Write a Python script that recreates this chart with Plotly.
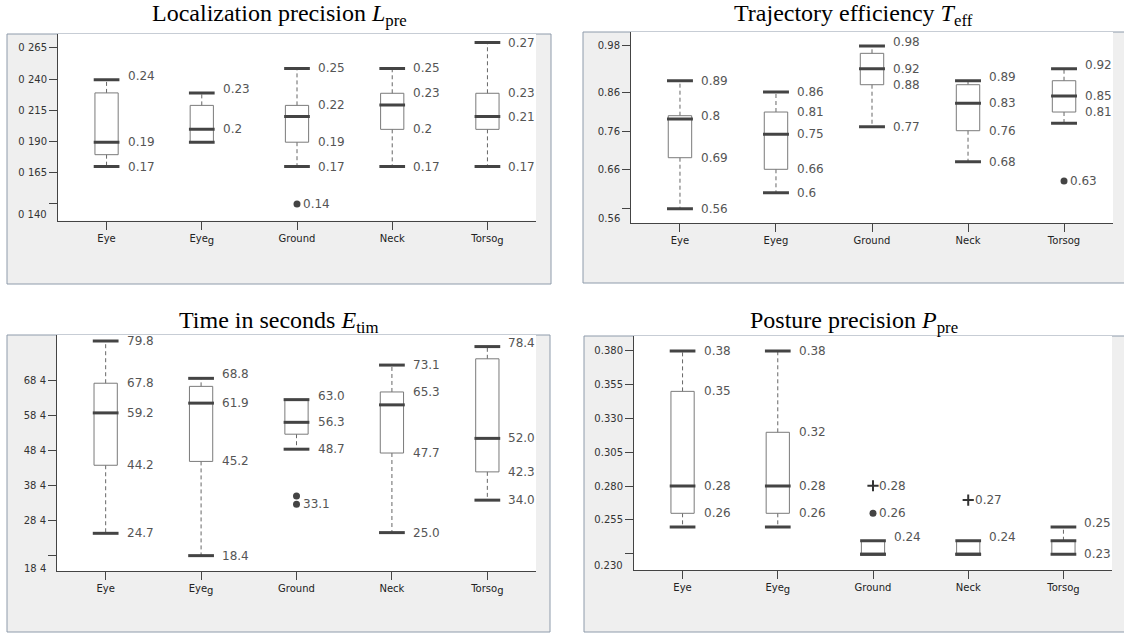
import plotly.graph_objects as go

# tick labels on the category axes
sub_g = "<sub><span style='font-size:10px'>g</span></sub>"
cats_sub = ["Eye", "Eye" + sub_g, "Ground", "Neck", "Torso" + sub_g]
cats_plain = ["Eye", "Eyeg", "Ground", "Neck", "Torsog"]

# Localization precision L_pre
loc_lower = [0.170, 0.1895, 0.170, 0.170, 0.170]
loc_q1 = [0.1795, 0.1895, 0.1895, 0.1998, 0.1998]
loc_median = [0.1895, 0.1998, 0.2100, 0.2194, 0.2100]
loc_q3 = [0.2290, 0.2190, 0.2190, 0.2287, 0.2287]
loc_upper = [0.2395, 0.2290, 0.2486, 0.2486, 0.2693]
loc_out = [[], [], [0.140], [], []]
loc_far = [[], [], [], [], []]
loc_labels = [
    [("upper", "0.24", 1), ("median", "0.19", 0), ("lower", "0.17", 0)],
    [("upper", "0.23", 1), ("median", "0.2", 0)],
    [("upper", "0.25", 0), ("q3", "0.22", 0), ("q1", "0.19", 0), ("lower", "0.17", 0), ("out", "0.14", 0)],
    [("upper", "0.25", 0), ("q3", "0.23", 0), ("q1", "0.2", 0), ("lower", "0.17", 0)],
    [("upper", "0.27", 0), ("q3", "0.23", 0), ("median", "0.21", 0), ("lower", "0.17", 0)],
]
loc_ticks = [0.165, 0.190, 0.215, 0.240, 0.265]
loc_ticktext = ["0 165", "0 190", "0 215", "0 240", "0 265"]
loc_minor = [0.140]

# Trajectory efficiency T_eff
eff_lower = [0.560, 0.6013, 0.7714, 0.6812, 0.7802]
eff_q1 = [0.6915, 0.6616, 0.8797, 0.7611, 0.8093]
eff_median = [0.7913, 0.7518, 0.9210, 0.8317, 0.8506]
eff_q3 = [0.7998, 0.8093, 0.9606, 0.8797, 0.8900]
eff_upper = [0.890, 0.8609, 0.9795, 0.890, 0.9209]
eff_out = [[], [], [], [], [0.6314]]
eff_far = [[], [], [], [], []]
eff_labels = [
    [("upper", "0.89", 0), ("q3", "0.8", 0), ("q1", "0.69", 0), ("lower", "0.56", 0)],
    [("upper", "0.86", 0), ("q3", "0.81", 0), ("median", "0.75", 0), ("q1", "0.66", 0), ("lower", "0.6", 0)],
    [("upper", "0.98", 1), ("median", "0.92", 0), ("q1", "0.88", 0), ("lower", "0.77", 0)],
    [("upper", "0.89", 1), ("median", "0.83", 0), ("q1", "0.76", 0), ("lower", "0.68", 0)],
    [("upper", "0.92", 1), ("median", "0.85", 0), ("q1", "0.81", 0), ("out", "0.63", 0)],
]
eff_ticks = [0.66, 0.76, 0.86, 0.98]
eff_ticktext = ["0.66", "0.76", "0.86", "0.98"]
eff_minor = [0.56]

# Time in seconds E_tim
tim_lower = [24.7, 18.3, 48.8, 24.9, 34.2]
tim_q1 = [44.2, 45.3, 53.1, 47.7, 42.3]
tim_median = [59.2, 62.0, 56.5, 61.5, 51.9]
tim_q3 = [67.7, 66.8, 63.0, 65.2, 74.7]
tim_upper = [79.8, 69.1, 63.0, 72.9, 78.2]
tim_out = [[], [], [35.4, 33.0], [], []]
tim_far = [[], [], [], [], []]
tim_labels = [
    [("upper", "79.8", 0), ("q3", "67.8", 0), ("median", "59.2", 0), ("q1", "44.2", 0), ("lower", "24.7", 0)],
    [("upper", "68.8", 1), ("median", "61.9", 0), ("q1", "45.2", 0), ("lower", "18.4", 0)],
    [("upper", "63.0", 1), ("median", "56.3", 0), ("lower", "48.7", 0), ("out1", "33.1", 0)],
    [("upper", "73.1", 0), ("q3", "65.3", 0), ("q1", "47.7", 0), ("lower", "25.0", 0)],
    [("upper", "78.4", 1), ("median", "52.0", 0), ("q1", "42.3", 0), ("lower", "34.0", 0)],
]
tim_ticks = [28.4, 38.4, 48.4, 58.4, 68.4]
tim_ticktext = ["28 4", "38 4", "48 4", "58 4", "68 4"]
tim_minor = [18.4]

# Posture precision P_pre
pos_lower = [0.2496, 0.2496, 0.2294, 0.2294, 0.2294]
pos_q1 = [0.2598, 0.2598, 0.2294, 0.2294, 0.2294]
pos_median = [0.2800, 0.2800, 0.2294, 0.2294, 0.2395]
pos_q3 = [0.3501, 0.3198, 0.2395, 0.2395, 0.2395]
pos_upper = [0.3800, 0.3800, 0.2395, 0.2395, 0.2496]
pos_out = [[], [], [0.2598], [], []]
pos_far = [[], [], [0.2802], [0.2696], []]
pos_labels = [
    [("upper", "0.38", 0), ("q3", "0.35", 0), ("median", "0.28", 0), ("q1", "0.26", 0)],
    [("upper", "0.38", 0), ("q3", "0.32", 0), ("median", "0.28", 0), ("q1", "0.26", 0)],
    [("upper", "0.24", 1), ("far", "0.28", 0), ("out", "0.26", 0)],
    [("upper", "0.24", 1), ("far", "0.27", 0)],
    [("upper", "0.25", 1), ("lower", "0.23", 0)],
]
pos_ticks = [0.255, 0.280, 0.305, 0.330, 0.355, 0.380]
pos_ticktext = ["0.255", "0.280", "0.305", "0.330", "0.355", "0.380"]
pos_minor = [0.230]

W, H = 1124, 635
BOX_W = 0.122
CAP_W = 0.135
DARK = "#444444"
LABEL_COLOR = "#555555"

fig = go.Figure()


def px_x(v):
    return v / W


def px_y(v):
    return 1 - v / H


def add_panel(n, title, cats, lower, q1, med, q3, upper, out, far, labels,
              ticks, ticktext, minor, bottom_text, bottom_val, yrange, frame, plot, title_y):
    xa = "x" if n == 1 else f"x{n}"
    ya = "y" if n == 1 else f"y{n}"
    pos = list(range(len(cats)))

    # gray frame and white plotting area
    fig.add_shape(type="rect", xref="paper", yref="paper", layer="below",
                  x0=px_x(frame[0]), x1=px_x(frame[1]), y0=px_y(frame[3]), y1=px_y(frame[2]),
                  fillcolor="#efefef", line=dict(color="#8e9bab", width=1))
    fig.add_shape(type="rect", xref="paper", yref="paper", layer="below",
                  x0=px_x(plot[0]), x1=px_x(plot[1]), y0=px_y(plot[3]), y1=px_y(plot[2]),
                  fillcolor="white", line=dict(width=0))

    bx, by, wx, wy, tx, ty = [], [], [], [], [], []
    for i, c in enumerate(pos):
        bx += [c - BOX_W, c + BOX_W, c + BOX_W, c - BOX_W, c - BOX_W, None]
        by += [q1[i], q1[i], q3[i], q3[i], q1[i], None]
        wx += [c, c, None, c, c, None]
        wy += [q3[i], upper[i], None, q1[i], lower[i], None]
        for v in (lower[i], upper[i], med[i]):
            tx += [c - CAP_W, c + CAP_W, None]
            ty += [v, v, None]

    fig.add_trace(go.Scatter(x=wx, y=wy, mode="lines", xaxis=xa, yaxis=ya,
                             line=dict(color="#666666", width=1, dash="4px,3px"),
                             hoverinfo="skip", showlegend=False))
    fig.add_trace(go.Scatter(x=bx, y=by, mode="lines", xaxis=xa, yaxis=ya,
                             line=dict(color="#7a7a7a", width=1),
                             hoverinfo="skip", showlegend=False))
    fig.add_trace(go.Scatter(x=tx, y=ty, mode="lines", xaxis=xa, yaxis=ya,
                             line=dict(color=DARK, width=3),
                             hoverinfo="skip", showlegend=False))

    ox = [pos[i] for i in range(len(cats)) for _ in out[i]]
    oy = [v for i in range(len(cats)) for v in out[i]]
    fig.add_trace(go.Scatter(x=ox, y=oy, mode="markers", xaxis=xa, yaxis=ya,
                             marker=dict(color=DARK, size=7),
                             hoverinfo="skip", showlegend=False))
    fx = [pos[i] for i in range(len(cats)) for _ in far[i]]
    fy = [v for i in range(len(cats)) for v in far[i]]
    fig.add_trace(go.Scatter(x=fx, y=fy, mode="markers", xaxis=xa, yaxis=ya,
                             marker=dict(symbol="cross-thin", size=8,
                                         line=dict(color="#333333", width=2)),
                             hoverinfo="skip", showlegend=False))

    # value labels next to the boxes
    for i, box_labels in enumerate(labels):
        stats = {"lower": lower[i], "q1": q1[i], "median": med[i], "q3": q3[i], "upper": upper[i]}
        for key, text, raised in box_labels:
            if key.startswith("out"):
                k = int(key[3:]) if len(key) > 3 else 0
                y, x = out[i][k], pos[i] + 0.045
            elif key == "far":
                y, x = far[i][0], pos[i] + 0.045
            else:
                y, x = stats[key], pos[i] + 0.2
            fig.add_annotation(x=x, y=y, xref=xa, yref=ya, text=text, showarrow=False,
                               xanchor="left", yanchor="middle", yshift=4 if raised else 0,
                               font=dict(family="DejaVu Sans", size=12, color=LABEL_COLOR))

    # lowest tick label is drawn below its tick
    fig.add_annotation(x=0, y=bottom_val, xref=f"{xa} domain", yref=ya, text=bottom_text,
                       showarrow=False, xanchor="right", yanchor="middle", xshift=-9,
                       font=dict(family="DejaVu Sans", size=10, color="#333333"))

    # panel title
    fig.add_annotation(x=px_x((frame[0] + min(frame[1], W)) / 2), y=px_y(title_y),
                       xref="paper", yref="paper", text=title, showarrow=False,
                       xanchor="center", yanchor="middle",
                       font=dict(family="Liberation Serif", size=24, color="black"))

    key_x = "xaxis" if n == 1 else f"xaxis{n}"
    key_y = "yaxis" if n == 1 else f"yaxis{n}"
    fig.update_layout({
        key_x: dict(domain=[px_x(plot[0]), px_x(plot[1])], anchor=ya, range=[-0.51, 4.51],
                    tickvals=pos, ticktext=cats, ticks="outside", ticklen=8,
                    tickcolor=DARK, showline=True, linecolor=DARK, linewidth=1,
                    showgrid=False, zeroline=False, fixedrange=True,
                    tickfont=dict(family="DejaVu Sans", size=10, color="#222222")),
        key_y: dict(domain=[px_y(plot[3]), px_y(plot[2])], anchor=xa, range=yrange,
                    tickvals=ticks, ticktext=ticktext, ticks="outside", ticklen=8,
                    tickcolor=DARK, showline=True, linecolor=DARK, linewidth=1,
                    showgrid=False, zeroline=False, fixedrange=True, ticklabelstandoff=0,
                    minor=dict(tickvals=minor, ticks="outside", ticklen=8,
                               tickcolor=DARK, showgrid=False),
                    tickfont=dict(family="DejaVu Sans", size=10, color="#333333")),
    })


add_panel(1, "Localization precision <i>L</i><sub>pre</sub>", cats_sub,
          loc_lower, loc_q1, loc_median, loc_q3, loc_upper, loc_out, loc_far, loc_labels,
          loc_ticks, loc_ticktext, loc_minor, "0 140", 0.1312, [0.1266, 0.2762],
          (7, 551, 34, 284), (58, 536, 34, 220.7), 15)
add_panel(2, "Trajectory efficiency <i>T</i><sub>eff</sub>", cats_plain,
          eff_lower, eff_q1, eff_median, eff_q3, eff_upper, eff_out, eff_far, eff_labels,
          eff_ticks, eff_ticktext, eff_minor, "0.56", 0.5335, [0.5224, 1.0156],
          (583, 1140, 32, 283), (631, 1113, 32, 223.3), 15)
add_panel(3, "Time in seconds <i>E</i><sub>tim</sub>", cats_sub,
          tim_lower, tim_q1, tim_median, tim_q3, tim_upper, tim_out, tim_far, tim_labels,
          tim_ticks, tim_ticktext, tim_minor, "18 4", 14.67, [13.9, 81.52],
          (7, 550, 335, 632), (57, 536, 335, 571), 322)
add_panel(4, "Posture precision <i>P</i><sub>pre</sub>", cats_sub,
          pos_lower, pos_q1, pos_median, pos_q3, pos_upper, pos_out, pos_far, pos_labels,
          pos_ticks, pos_ticktext, pos_minor, "0.230", 0.2215, [0.2176, 0.3911],
          (584, 1140, 336, 632), (634, 1112, 336, 570.3), 322)

fig.update_layout(width=W, height=H, autosize=False,
                  margin=dict(l=0, r=0, t=0, b=0),
                  paper_bgcolor="white", plot_bgcolor="rgba(0,0,0,0)")

# the page's default body margin would shift the figure by 8px
fig.write_html("out.html", config={"displayModeBar": False},
               post_script="document.body.style.margin='0px';")
